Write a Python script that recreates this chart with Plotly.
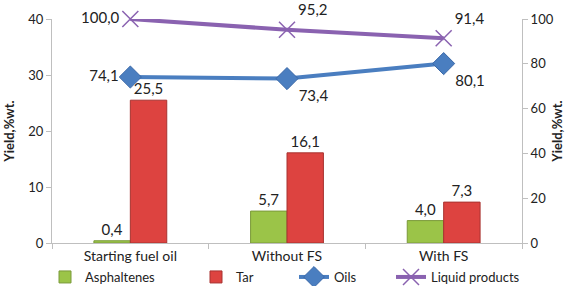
import plotly.graph_objects as go

categories = ["Starting fuel oil", "Without FS", "With FS"]
asphaltenes = [0.4, 5.7, 4.0]
tar = [25.5, 16.1, 7.3]
oils = [74.1, 73.4, 80.1]
liquid = [100.0, 95.2, 91.4]

oils_pos = ["middle left", "bottom right", "bottom right"]
liquid_pos = ["middle left", "top right", "top right"]

FONT = "Lato, Liberation Sans, sans-serif"
L, R, T, B = 52, 43, 19, 43
W, H = 565, 286
pw = W - L - R
ph = H - T - B

fig = go.Figure()
fig.add_bar(x=categories, y=asphaltenes, name="Asphaltenes",
            marker=dict(color="#9BC448", line=dict(color="#7A9A3A", width=1)),
            texttemplate="%{y:.1f}", textposition="outside",
            textfont=dict(size=15, color="#222"), cliponaxis=False,
            legend="legend")
fig.add_bar(x=categories, y=tar, name="Tar",
            marker=dict(color="#DD4340", line=dict(color="#A83330", width=1)),
            texttemplate="%{y:.1f}", textposition="outside",
            textfont=dict(size=15, color="#222"), cliponaxis=False,
            legend="legend2")
fig.add_scatter(x=categories, y=oils, name="Oils", yaxis="y2",
                mode="lines+markers+text",
                line=dict(color="#4A7EC0", width=4),
                marker=dict(symbol="diamond", size=17, color="#4A7EC0",
                            line=dict(color="#3A68A8", width=1)),
                texttemplate="%{y:.1f}", textposition=oils_pos,
                textfont=dict(size=15, color="#222"), cliponaxis=False,
                legend="legend3")
fig.add_scatter(x=categories, y=liquid, name="Liquid products", yaxis="y2",
                mode="lines+markers+text",
                line=dict(color="#8A62B0", width=4),
                marker=dict(symbol="x-thin", size=16, color="#8A62B0",
                            line=dict(color="#8A62B0", width=1.5)),
                texttemplate="%{y:.1f}", textposition=liquid_pos,
                textfont=dict(size=15, color="#222"), cliponaxis=False,
                legend="legend4")

def lx(px):
    return (px - L) / pw

ly = (243 - 277) / ph
legend_common = dict(orientation="h", yanchor="middle", y=ly, xanchor="left",
                     font=dict(family=FONT, size=13, color="#222"),
                     bgcolor="rgba(0,0,0,0)", itemwidth=30, tracegroupgap=0)

fig.update_layout(
    width=W, height=H,
    margin=dict(l=L, r=R, t=T, b=B, autoexpand=False),
    paper_bgcolor="white", plot_bgcolor="white",
    font=dict(family=FONT, size=13, color="#222"),
    separators=",.",
    barmode="group", bargap=0.535, bargroupgap=0,
    showlegend=True,
    legend=dict(x=lx(45), **legend_common),
    legend2=dict(x=lx(196), **legend_common),
    legend3=dict(x=lx(294), **legend_common),
    legend4=dict(x=lx(391), **legend_common),
    xaxis=dict(type="category", showline=True, linecolor="#BFBFBF",
               ticks="outside", tickson="boundaries", ticklen=5,
               tickcolor="#BFBFBF", showgrid=False, automargin=False,
               tickfont=dict(size=14, color="#222")),
    yaxis=dict(range=[0, 40], dtick=10, showline=True, linecolor="#BFBFBF",
               ticks="outside", ticklen=5, tickcolor="#BFBFBF", showgrid=False,
               zeroline=False, tickfont=dict(size=13, color="#222"), automargin=False,
               title=dict(text="<b>Yield,%wt.</b>", font=dict(size=13), standoff=10)),
    yaxis2=dict(range=[0, 100], dtick=20, overlaying="y", side="right",
                showline=True, linecolor="#BFBFBF", ticks="outside", ticklen=5,
                tickcolor="#BFBFBF", showgrid=False, zeroline=False, automargin=False,
                tickfont=dict(size=13, color="#222"),
                title=dict(text="<b>Yield,%wt.</b>", font=dict(size=13), standoff=8)),
)

fig.write_html(
    "out.html",
    config={"displayModeBar": False},
    post_script="document.body.style.margin='0';document.documentElement.style.overflow='hidden';",
)
